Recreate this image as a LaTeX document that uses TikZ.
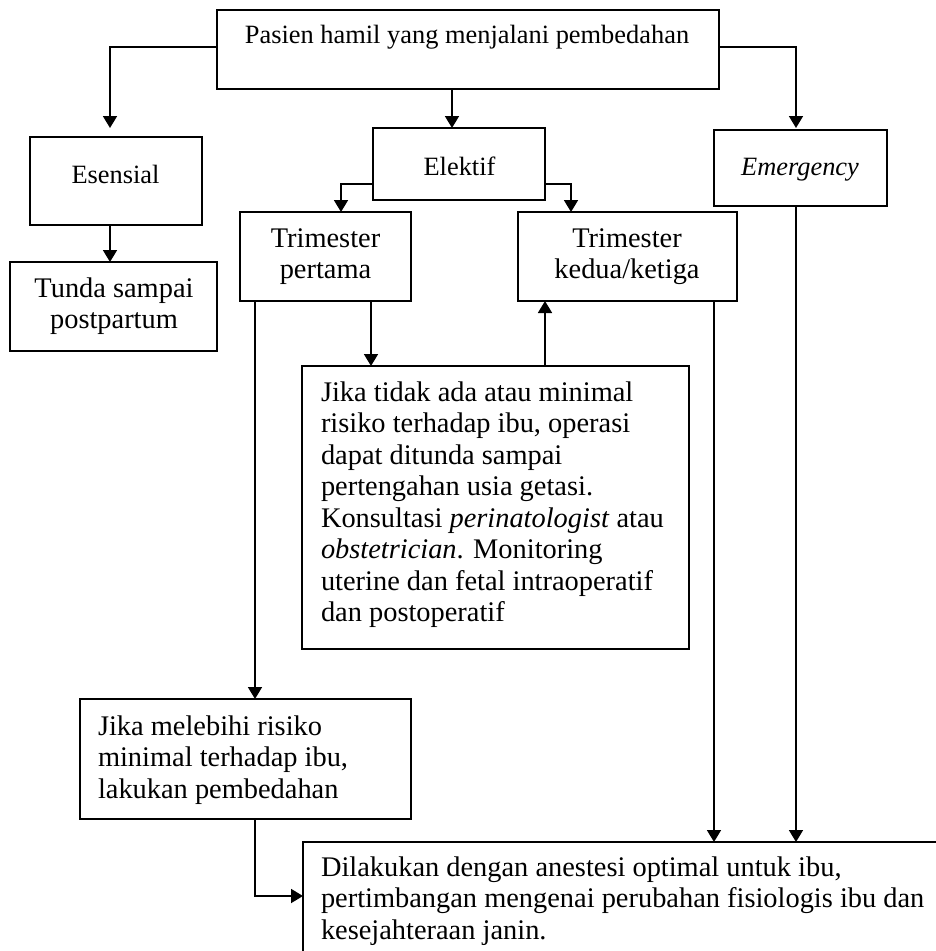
\documentclass[tikz,border=0pt]{standalone}
\usepackage{fontspec}
\setmainfont{Liberation Serif}
\usetikzlibrary{arrows.meta}
\begin{document}
\begin{tikzpicture}[x=1pt,y=-1pt,
  box/.style={draw=black,line width=1.8pt,rectangle,inner sep=0pt,outer sep=0pt},
  arr/.style={line width=1.8pt,-{Triangle[length=12pt,width=14pt]}},
  fa/.style={font=\fontsize{26.4}{31.5}\selectfont,inner sep=0pt,outer sep=0pt,anchor=base},
  fb/.style={font=\fontsize{28.4}{31.5}\selectfont,inner sep=0pt,outer sep=0pt,anchor=base,align=center},
  fl/.style={font=\fontsize{28.4}{31.5}\selectfont,inner sep=0pt,outer sep=0pt,anchor=base west,align=left}]
\useasboundingbox (0,0) rectangle (936,951);
\clip (0,0) rectangle (936,951);
% boxes
\node[box,minimum width=502pt,minimum height=79pt] (top) at (468,49.5) {};
\node[box,minimum width=172pt,minimum height=88pt] (ess) at (116,181) {};
\node[box,minimum width=207pt,minimum height=89pt] (tunda) at (113.5,306.5) {};
\node[box,minimum width=172pt,minimum height=72pt] (elek) at (459,164) {};
\node[box,minimum width=173pt,minimum height=76pt] (emer) at (800.5,168) {};
\node[box,minimum width=171pt,minimum height=89pt] (tri1) at (325.5,256.5) {};
\node[box,minimum width=219pt,minimum height=89pt] (tri2) at (627.5,256.5) {};
\node[box,minimum width=387pt,minimum height=283pt] (mid) at (495.5,507.5) {};
\node[box,minimum width=331pt,minimum height=120pt] (jika) at (245.5,759) {};
\node[box,minimum width=657pt,minimum height=138pt] (bot) at (631.5,911) {};
% texts (base anchor of a multi-line node = baseline of its last line)
\node[fa] (ttop) at (467,43) {Pasien hamil yang menjalani pembedahan};
\node[fa] (tess) at (115.5,183) {Esensial};
\node[fa] (telek) at (459.5,175) {Elektif};
\node[fa] (temer) at (800,175) {\itshape Emergency};
\node[fb] (ttunda) at (114,328.5) {Tunda sampai\\postpartum};
\node[fb] (ttri1) at (325.5,278.5) {Trimester\\pertama};
\node[fb] (ttri2) at (627,278.5) {Trimester\\kedua/ketiga};
\node[fl] (tmid) at (321,621.5) {Jika tidak ada atau minimal\\risiko terhadap ibu, operasi\\dapat ditunda sampai\\pertengahan usia getasi.\\Konsultasi \textit{perinatologist} atau\\\textit{obstetrician}. Monitoring\\uterine dan fetal intraoperatif\\dan postoperatif};
\node[fl] (tjika) at (98,798) {Jika melebihi risiko\\minimal terhadap ibu,\\lakukan pembedahan};
\node[fl] (tbot) at (321,939) {Dilakukan dengan anestesi optimal untuk ibu,\\pertimbangan mengenai perubahan fisiologis ibu dan\\kesejahteraan janin.};
% connectors
\draw[arr,shorten >=9pt] ([yshift=2.5pt]top.west) -| ([xshift=-6pt]ess.north);
\draw[arr] ([xshift=-6pt]ess.south) -- ([xshift=-6pt]ess.south |- tunda.north);
\draw[arr] ([xshift=-16pt]top.south) -- ([xshift=-16pt]top.south |- elek.north);
\draw[arr,shorten >=2pt] ([yshift=2.5pt]top.east) -| ([xshift=-4.5pt]emer.north);
\draw[arr] ([yshift=-20pt]elek.west) -| ([xshift=15.5pt]tri1.north);
\draw[arr] ([yshift=-20pt]elek.east) -| ([xshift=-56.5pt]tri2.north);
\draw[arr] ([xshift=45.5pt]tri1.south) -- ([xshift=45.5pt]tri1.south |- mid.north);
\draw[arr] ([xshift=49.5pt]mid.north) -- ([xshift=49.5pt]mid.north |- tri2.south);
\draw[arr] ([xshift=-70.5pt]tri1.south) -- ([xshift=-70.5pt]tri1.south |- jika.north);
\draw[arr] ([xshift=86.5pt]tri2.south) -- ([xshift=86.5pt]tri2.south |- bot.north);
\draw[arr] ([xshift=-4.5pt]emer.south) -- ([xshift=-4.5pt]emer.south |- bot.north);
\draw[arr] ([xshift=9.5pt]jika.south) |- ([yshift=15pt]bot.west);
\end{tikzpicture}
\end{document}
